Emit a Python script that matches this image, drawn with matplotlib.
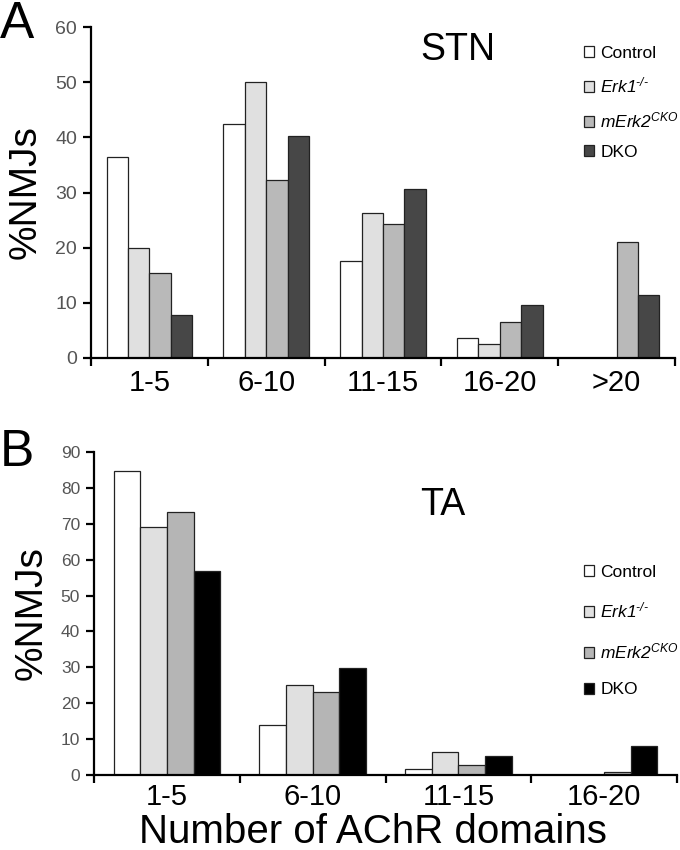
import numpy as np
import matplotlib
matplotlib.use('Agg')
import matplotlib.pyplot as plt

# fonts: Helvetica-like
plt.rcParams['font.family'] = ['Liberation Sans', 'DejaVu Sans']
plt.rcParams['mathtext.fontset'] = 'custom'
plt.rcParams['mathtext.rm'] = 'Liberation Sans:italic'
plt.rcParams['mathtext.it'] = 'Liberation Sans:italic'

# data
groups = ['Control', '$Erk1^{\u2010/\u2010}$', r'$mErk2^{CKO}$', 'DKO']

stn_cats = ['1-5', '6-10', '11-15', '16-20', '>20']
stn_control = [36.4, 42.4, 17.6, 3.6, 0]
stn_erk1 = [20.0, 50.0, 26.3, 2.5, 0]
stn_merk2 = [15.4, 32.2, 24.3, 6.5, 21.0]
stn_dko = [7.8, 40.2, 30.6, 9.6, 11.4]

ta_cats = ['1-5', '6-10', '11-15', '16-20']
ta_control = [84.7, 13.9, 1.6, 0]
ta_erk1 = [69.0, 25.0, 6.4, 0]
ta_merk2 = [73.3, 23.2, 2.7, 0.8]
ta_dko = [56.8, 29.8, 5.4, 8.1]

W, H = 680, 850
fig = plt.figure(figsize=(6.8, 8.5), dpi=100)


def px_axes(l, t, r, b):
    return fig.add_axes([l / W, 1 - b / H, (r - l) / W, (b - t) / H])


def panel(ax, cats, series, colors, ymax, ystep, legend_loc, lspace, tick_font,
          xpad, leg_font):
    n = len(cats)
    x = np.arange(n)
    bw = 0.183
    for i, (vals, c) in enumerate(zip(series, colors)):
        ax.bar(x + (i - 1.5) * bw, vals, bw, color=c, edgecolor='#222222',
               linewidth=0.9, label=groups[i], zorder=3)
    ax.set_xlim(-0.5, n - 0.5)
    ax.set_ylim(0, ymax)
    ax.set_yticks(np.arange(0, ymax + 1, ystep))
    for s in ['top', 'right']:
        ax.spines[s].set_visible(False)
    for s in ['left', 'bottom']:
        ax.spines[s].set_linewidth(1.6)
    ax.spines['bottom'].set_zorder(5)
    ax.set_xticks(np.arange(n + 1) - 0.5)
    ax.set_xticklabels([])
    ax.set_xticks(x, minor=True)
    ax.set_xticklabels(cats, minor=True, fontsize=21)
    ax.tick_params(axis='x', which='major', length=6, width=1.6, direction='out')
    ax.tick_params(axis='x', which='minor', length=0, pad=xpad)
    ax.tick_params(axis='y', length=6, width=1.6, labelcolor='#555555',
                   labelsize=tick_font, pad=4)
    ax.set_ylabel('%NMJs', fontsize=28, labelpad=8)
    leg = ax.legend(loc='upper left', bbox_to_anchor=legend_loc, frameon=False,
                    handlelength=0.6, handleheight=0.6, handletextpad=0.35,
                    labelspacing=lspace, fontsize=leg_font, borderaxespad=0)
    return leg


axA = px_axes(91, 27, 675, 358)
panel(axA, stn_cats, [stn_control, stn_erk1, stn_merk2, stn_dko],
      ['white', '#e0e0e0', '#b9b9b9', '#474747'], 60, 10,
      ((577 - 91) / (675 - 91), 1 - (39 - 27) / (358 - 27)), 0.85, 14, 8, 12.5)

axB = px_axes(94, 452, 677, 775)
panel(axB, ta_cats, [ta_control, ta_erk1, ta_merk2, ta_dko],
      ['white', '#e0e0e0', '#b5b5b5', 'black'], 90, 10,
      ((577 - 94) / (677 - 94), 1 - (558 - 452) / (775 - 452)), 1.2, 12.5, 6, 12.5)

fig.text(458 / W, 1 - 50 / H, 'STN', fontsize=27, ha='center', va='center')
fig.text(443 / W, 1 - 505 / H, 'TA', fontsize=27, ha='center', va='center')
fig.text(373 / W, 1 - 832 / H, 'Number of AChR domains', fontsize=29,
         ha='center', va='center')
fig.text(0 / W, 1 - 24 / H, 'A', fontsize=37, ha='left', va='center')
fig.text(0 / W, 1 - 452 / H, 'B', fontsize=37, ha='left', va='center')

fig.savefig('out.png', dpi=100)
